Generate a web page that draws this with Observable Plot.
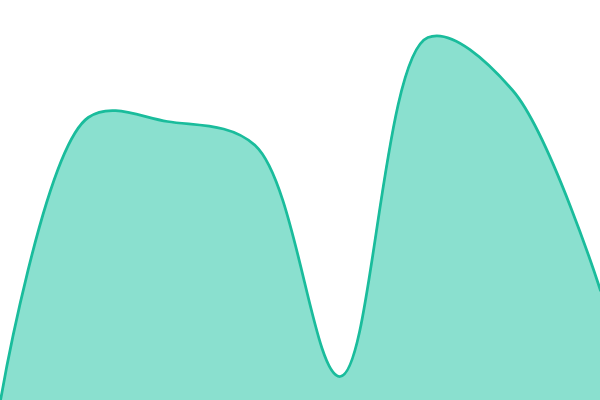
<!DOCTYPE html>
<html>
<head>
<meta charset="utf-8">
<script src="https://cdn.jsdelivr.net/npm/d3@7"></script>
<script src="https://cdn.jsdelivr.net/npm/@observablehq/plot@0.6"></script>
<style>body{margin:0;background:#fff}</style>
</head>
<body>
<div id="chart"></div>
<script>
const dates = ["2023-01-01", "2023-02-01", "2023-03-01", "2023-04-01", "2023-05-01", "2023-06-01", "2023-07-01", "2023-08-01"];
const values = [0, 70.75, 69.75, 63.75, 6, 90.75, 77.5, 27.5];
const data = dates.map((d, i) => ({date: new Date(d + "T00:00:00Z"), value: values[i]}));
const chart = Plot.plot({
  width: 600,
  height: 400,
  margin: 0,
  x: {type: "utc", axis: null},
  y: {domain: [0, 100], axis: null},
  marks: [
    Plot.areaY(data, {x: "date", y: "value", curve: "catmull-rom", fill: "#8ae0cf"}),
    Plot.lineY(data, {x: "date", y: "value", curve: "catmull-rom", stroke: "#1abc9c", strokeWidth: 2.75})
  ]
});
document.getElementById("chart").append(chart);
</script>
</body>
</html>
